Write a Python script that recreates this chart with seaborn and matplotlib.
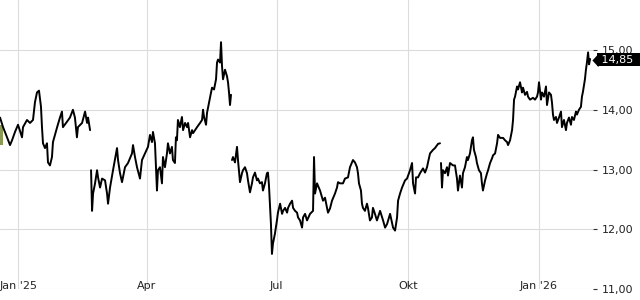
import numpy as np
import pandas as pd
import matplotlib
matplotlib.use("Agg")
import matplotlib.pyplot as plt
import matplotlib.transforms as mtransforms
import seaborn as sns

# ---------------- data (day offsets from 2025-01-01, price in EUR) ----------------
base_date = "2025-01-01"

seg1_days = [-12.8, -10.7, -7.9, -5.8, -4.4, -2.3, -0.2, 2.6, 3.3, 6.1, 8.2, 10.3, 11.7, 13.1,
             14.5, 15.9, 16.6, 17.3, 18.7, 20.1, 20.8, 22.2, 23.6, 24.3, 27.1, 29.2, 30.6, 31.3,
             34.1, 36.2, 38.3, 39.7, 41.1, 41.8, 44.7, 46.8, 48.2, 48.9, 50.3]
seg1_price = [13.87, 13.71, 13.54, 13.41, 13.49, 13.63, 13.75, 13.54, 13.71, 13.83, 13.78, 13.83,
              14.13, 14.29, 14.32, 14.05, 13.71, 13.44, 13.36, 13.44, 13.12, 13.07, 13.21, 13.46,
              13.70, 13.87, 13.97, 13.71, 13.80, 13.87, 14.00, 13.87, 13.54, 13.71, 13.78, 13.97,
              13.78, 13.87, 13.66]

seg2_days = [51.0, 51.7, 52.4, 53.8, 55.2, 55.9, 57.3, 58.7, 60.8, 62.2, 62.9, 64.3, 66.4, 69.2,
             69.9, 71.3, 72.7, 74.8, 76.9, 79.7, 80.4, 81.8, 83.2, 85.3, 86.7, 88.8, 90.9, 92.3,
             93.7, 94.4, 95.8, 97.2, 97.9, 99.3, 100.7, 101.4, 102.8, 104.2, 104.9, 106.3, 107.7,
             108.4, 109.8, 110.5, 111.2, 111.9, 113.3, 114.7, 115.5, 116.9, 118.3, 119.0, 120.4,
             121.8, 122.5, 125.3, 127.4, 128.8, 129.5, 130.2, 131.6, 132.3, 133.7, 135.1, 135.8,
             137.2, 138.6, 139.3, 140.0, 141.4, 142.1, 142.8, 143.5, 144.9, 146.3, 147.0, 147.7,
             148.4, 149.1]
seg2_price = [12.99, 12.31, 12.60, 12.77, 12.99, 12.87, 12.70, 12.85, 12.82, 12.60, 12.43, 12.70,
              12.99, 13.36, 13.16, 12.94, 12.79, 13.04, 13.11, 13.27, 13.41, 13.21, 13.04, 12.85,
              13.16, 13.27, 13.38, 13.58, 13.46, 13.63, 13.44, 12.65, 12.99, 13.04, 12.77, 13.21,
              13.04, 13.27, 13.44, 13.27, 13.38, 13.16, 13.11, 13.54, 13.49, 13.83, 13.71, 13.88,
              13.66, 13.78, 13.71, 13.78, 13.54, 13.66, 13.61, 13.71, 13.78, 13.83, 14.00, 13.88,
              13.75, 13.95, 14.12, 14.29, 14.37, 14.34, 14.51, 14.79, 14.84, 14.79, 15.13, 14.73,
              14.51, 14.67, 14.56, 14.46, 14.29, 14.08, 14.25]

seg3_days = [149.8, 150.5, 151.9, 153.3, 154.0, 155.4, 156.8, 157.5, 158.9, 160.3, 161.0, 162.4,
             163.8, 164.5, 165.9, 167.3, 168.0, 169.4, 170.8, 171.5, 172.9, 174.3, 175.0, 175.7,
             177.1, 177.8, 178.5, 179.9, 181.3, 182.0, 183.5, 184.9, 185.6, 187.0, 188.4, 189.1,
             190.5, 191.9, 192.6, 194.0, 195.4, 196.1, 197.5, 198.9, 199.6, 201.0, 202.4, 204.5,
             206.6, 207.3, 208.0, 209.4, 211.5, 213.6, 215.0, 216.4, 217.1, 218.5, 219.9, 222.0,
             223.4, 224.1, 225.5, 227.6, 229.0, 231.1, 232.5, 233.9, 234.6, 236.0, 237.4, 238.1,
             238.8, 240.2, 240.9, 241.6, 243.0, 244.4, 245.1, 246.5, 247.9, 248.6, 250.0, 251.4,
             253.6, 255.7, 257.1, 258.5, 260.6, 262.7, 264.1, 265.5, 266.2, 267.6, 269.0, 271.1,
             272.5, 274.6, 276.0, 276.7, 278.1, 278.8, 280.2, 281.6, 283.7, 285.1, 286.5, 287.2,
             288.6, 290.7, 292.1, 294.2, 295.6]
seg3_price = [13.16, 13.21, 13.12, 13.38, 13.16, 12.79, 12.94, 12.99, 13.04, 12.94, 12.82, 12.62,
              12.77, 12.87, 12.95, 12.82, 12.85, 12.77, 12.79, 12.65, 12.77, 12.94, 12.95, 12.74,
              12.09, 11.59, 11.76, 11.93, 12.15, 12.28, 12.43, 12.26, 12.31, 12.36, 12.28, 12.36,
              12.43, 12.48, 12.36, 12.31, 12.28, 12.20, 12.15, 12.03, 12.20, 12.26, 12.15, 12.26,
              12.31, 13.21, 12.60, 12.77, 12.65, 12.48, 12.53, 12.36, 12.28, 12.35, 12.48, 12.60,
              12.70, 12.79, 12.77, 12.77, 12.85, 12.87, 13.04, 13.12, 13.16, 13.12, 13.04, 12.94,
              12.77, 12.65, 12.43, 12.36, 12.31, 12.43, 12.36, 12.15, 12.20, 12.36, 12.26, 12.15,
              12.31, 12.15, 12.03, 12.09, 12.26, 12.03, 11.98, 12.20, 12.48, 12.60, 12.70, 12.82,
              12.85, 12.99, 13.11, 12.77, 12.60, 12.87, 12.87, 12.94, 13.02, 12.95, 13.04, 13.12,
              13.27, 13.33, 13.36, 13.43, 13.44]

seg4_days = [296.3, 297.0, 297.7, 299.1, 300.5, 301.2, 302.6, 304.7, 306.1, 307.5, 308.2, 309.6,
             311.0, 311.7, 313.1, 314.5, 315.2, 316.6, 318.0, 318.7, 319.4, 320.8, 321.5, 322.9,
             324.3, 325.0, 325.7, 327.2, 328.6, 329.3, 330.7, 332.1, 332.8, 334.2, 335.6, 336.3,
             337.7, 339.8, 341.2, 342.6, 343.3, 344.7, 346.1, 346.8, 347.5, 348.2, 349.6, 350.3,
             351.7, 353.1, 353.8, 355.2, 356.6, 357.3, 358.7, 360.8, 362.2, 363.6, 364.3, 365.0,
             366.4, 367.1, 368.5, 369.9, 370.6, 372.0, 373.4, 374.1, 374.8, 375.5, 376.9, 377.6,
             379.0, 380.4, 381.1, 382.5, 383.9, 384.6, 386.0, 387.4, 388.1, 389.5, 390.9, 391.6,
             393.0, 394.4, 395.1, 395.8, 397.2, 397.9, 398.6, 399.4, 400.1, 400.8]
seg4_price = [13.11, 12.70, 12.99, 12.94, 13.04, 12.90, 13.11, 13.07, 13.07, 12.85, 12.65, 12.90,
              12.70, 12.94, 13.04, 13.21, 13.16, 13.27, 13.49, 13.54, 13.33, 13.21, 13.11, 12.99,
              12.94, 12.77, 12.65, 12.82, 12.94, 12.99, 13.11, 13.19, 13.24, 13.27, 13.44, 13.58,
              13.53, 13.53, 13.49, 13.46, 13.41, 13.49, 13.66, 13.83, 14.17, 14.22, 14.39, 14.34,
              14.46, 14.29, 14.37, 14.25, 14.30, 14.22, 14.17, 14.20, 14.17, 14.22, 14.29, 14.46,
              14.17, 14.29, 14.22, 14.39, 14.08, 14.29, 14.25, 14.12, 13.92, 13.83, 13.88, 13.78,
              13.87, 13.97, 13.71, 13.83, 13.66, 13.78, 13.87, 13.75, 13.88, 13.83, 13.97, 13.92,
              14.00, 14.05, 14.22, 14.30, 14.51, 14.67, 14.79, 14.96, 14.76, 14.85]

last_price = 14.85

tick_dates = ["2025-01-01", "2025-04-01", "2025-07-01", "2025-10-01", "2026-01-01"]
tick_labels = ["Jan '25", "Apr", "Jul", "Okt", "Jan '26"]
y_ticks = [11, 12, 13, 14, 15]

# ---------------- frame ----------------
segments = [(seg1_days, seg1_price), (seg2_days, seg2_price),
            (seg3_days, seg3_price), (seg4_days, seg4_price)]
frames = []
for i, (d, p) in enumerate(segments):
    frames.append(pd.DataFrame({
        "date": pd.Timestamp(base_date) + pd.to_timedelta(np.array(d), unit="D"),
        "price": p,
        "segment": i,
    }))
df = pd.concat(frames, ignore_index=True)

sns.set_style("white")
plt.rcParams["font.family"] = ["DejaVu Sans"]

fig = plt.figure(figsize=(6.4, 3.0), dpi=100)
ax = fig.add_axes([0.0, 0.036, 593 / 640, 0.964])

grid_c = "#dcdcdc"
text_c = "#222222"

sns.lineplot(data=df, x="date", y="price", units="segment", estimator=None,
             color="black", linewidth=1.4, ax=ax, legend=False, zorder=3)

# small olive marker at the left edge
t0 = pd.Timestamp(base_date) + pd.Timedelta(days=-12.83)
t1 = pd.Timestamp(base_date) + pd.Timedelta(days=-10.6)
ax.fill_between([t0, t1], [13.41, 13.41], [13.75, 13.75], color="#8c9a58", zorder=2, lw=0)

ax.set_xlim(pd.Timestamp(base_date) + pd.Timedelta(days=-12.83),
            pd.Timestamp(base_date) + pd.Timedelta(days=402.85))
ax.set_ylim(11.0, 15.836)

ax.set_xticks(pd.to_datetime(tick_dates))
ax.set_xticklabels(tick_labels)
ax.set_yticks(y_ticks)
ax.set_yticklabels([f"{v:.2f}".replace(".", ",") for v in y_ticks])
ax.yaxis.tick_right()
ax.set_xlabel("")
ax.set_ylabel("")

ax.grid(True, color=grid_c, linewidth=0.8, zorder=0)
ax.set_axisbelow(True)
for s in ax.spines.values():
    s.set_visible(False)

ax.tick_params(axis="x", direction="out", length=3.5, width=0.8, color="#333333",
               pad=-9.6, labelsize=8, labelcolor=text_c)
ax.tick_params(axis="y", direction="out", length=3, width=0.8, color="#333333",
               pad=3, labelsize=8, labelcolor=text_c, right=True, left=False)

# last price tag
trans = mtransforms.blended_transform_factory(ax.transAxes, ax.transData)
ax.annotate(" " + f"{last_price:.2f}".replace(".", ",") + "  ", xy=(1.0, last_price),
            xycoords=trans, xytext=(3.6, -0.4), textcoords="offset points",
            ha="left", va="center", fontsize=8, color="white", annotation_clip=False,
            zorder=6, bbox=dict(boxstyle="square,pad=0.12", fc="black", ec="none"))
tag_marker = [(-0.46, 0.0), (0.46, 1.0), (0.46, -1.0), (-0.46, 0.0)]
mark_trans = trans + mtransforms.ScaledTranslation(1.3 / 72, -0.4 / 72, fig.dpi_scale_trans)
ax.plot([1.0], [last_price], marker=tag_marker, markersize=9.6, color="black",
        markeredgewidth=0, transform=mark_trans, clip_on=False, zorder=6)

fig.savefig("out.png", dpi=100)
